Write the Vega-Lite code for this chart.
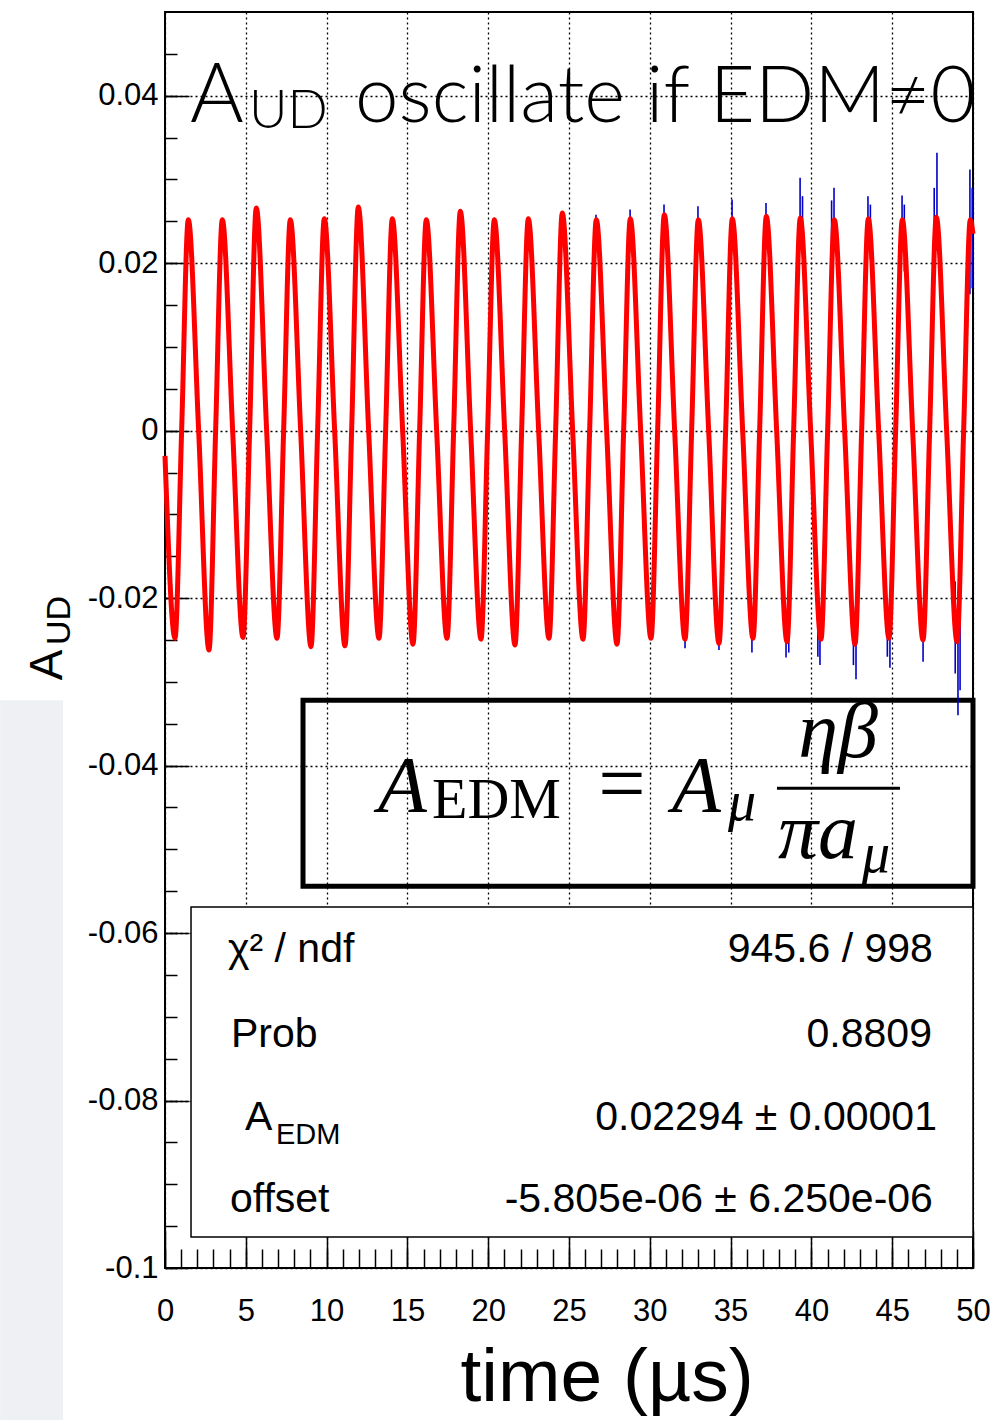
{
  "$schema": "https://vega.github.io/schema/vega-lite/v6.json",
  "width": 808,
  "height": 1256,
  "padding": {"left": 0, "top": 12, "right": 0, "bottom": 0},
  "background": "white",
  "datasets": {
    "fit": [
      {"t":0,"v":-0.003},
      {"t":0.619,"v":-0.0248},{"t":1.029,"v":0},{"t":1.442,"v":0.0252},{"t":2.082,"v":0},
      {"t":2.723,"v":-0.0262},{"t":3.133,"v":0},{"t":3.546,"v":0.0252},{"t":4.186,"v":0},
      {"t":4.827,"v":-0.0247},{"t":5.237,"v":0},{"t":5.65,"v":0.0266},{"t":6.29,"v":0},
      {"t":6.931,"v":-0.0248},{"t":7.341,"v":0},{"t":7.754,"v":0.0252},{"t":8.394,"v":0},
      {"t":9.035,"v":-0.0258},{"t":9.445,"v":0},{"t":9.858,"v":0.0253},{"t":10.498,"v":0},
      {"t":11.139,"v":-0.0257},{"t":11.549,"v":0},{"t":11.962,"v":0.0267},{"t":12.602,"v":0},
      {"t":13.243,"v":-0.0248},{"t":13.653,"v":0},{"t":14.066,"v":0.0253},{"t":14.706,"v":0},
      {"t":15.347,"v":-0.0255},{"t":15.757,"v":0},{"t":16.17,"v":0.0252},{"t":16.81,"v":0},
      {"t":17.451,"v":-0.0248},{"t":17.861,"v":0},{"t":18.274,"v":0.0262},{"t":18.914,"v":0},
      {"t":19.555,"v":-0.0249},{"t":19.965,"v":0},{"t":20.378,"v":0.0252},{"t":21.018,"v":0},
      {"t":21.659,"v":-0.0256},{"t":22.069,"v":0},{"t":22.482,"v":0.0253},{"t":23.122,"v":0},
      {"t":23.763,"v":-0.0248},{"t":24.173,"v":0},{"t":24.586,"v":0.026},{"t":25.226,"v":0},
      {"t":25.867,"v":-0.0249},{"t":26.277,"v":0},{"t":26.69,"v":0.0252},{"t":27.33,"v":0},
      {"t":27.971,"v":-0.0255},{"t":28.381,"v":0},{"t":28.794,"v":0.0253},{"t":29.434,"v":0},
      {"t":30.075,"v":-0.0248},{"t":30.485,"v":0},{"t":30.898,"v":0.0258},{"t":31.538,"v":0},
      {"t":32.179,"v":-0.0249},{"t":32.589,"v":0},{"t":33.002,"v":0.0252},{"t":33.642,"v":0},
      {"t":34.283,"v":-0.0254},{"t":34.693,"v":0},{"t":35.106,"v":0.0253},{"t":35.746,"v":0},
      {"t":36.387,"v":-0.0248},{"t":36.797,"v":0},{"t":37.21,"v":0.0256},{"t":37.85,"v":0},
      {"t":38.491,"v":-0.0252},{"t":38.901,"v":0},{"t":39.314,"v":0.0254},{"t":39.954,"v":0},
      {"t":40.595,"v":-0.0249},{"t":41.005,"v":0},{"t":41.418,"v":0.0252},{"t":42.058,"v":0},
      {"t":42.699,"v":-0.0255},{"t":43.109,"v":0},{"t":43.522,"v":0.0253},{"t":44.162,"v":0},
      {"t":44.803,"v":-0.0248},{"t":45.213,"v":0},{"t":45.626,"v":0.0252},{"t":46.266,"v":0},
      {"t":46.907,"v":-0.025},{"t":47.317,"v":0},{"t":47.73,"v":0.0255},{"t":48.37,"v":0},
      {"t":49.011,"v":-0.0252},{"t":49.421,"v":0},{"t":49.834,"v":0.0252},{"t":50,"v":0.0235}
    ],
    "bars": [
      {"t":24.57,"lo":0.0235,"hi":0.0262},
      {"t":26.67,"lo":0.0235,"hi":0.0258},
      {"t":28.78,"lo":0.0232,"hi":0.0264},
      {"t":30.88,"lo":0.023,"hi":0.027},
      {"t":32.98,"lo":0.0232,"hi":0.0268},
      {"t":35.09,"lo":0.0228,"hi":0.0276},
      {"t":37.19,"lo":0.023,"hi":0.0272},
      {"t":39.3,"lo":0.022,"hi":0.0302},
      {"t":39.45,"lo":0.021,"hi":0.028},
      {"t":41.25,"lo":0.022,"hi":0.0275},
      {"t":41.4,"lo":0.0225,"hi":0.029},
      {"t":43.5,"lo":0.0222,"hi":0.028},
      {"t":43.65,"lo":0.0205,"hi":0.027},
      {"t":45.61,"lo":0.022,"hi":0.0281},
      {"t":45.75,"lo":0.019,"hi":0.027},
      {"t":47.6,"lo":0.02,"hi":0.029},
      {"t":47.77,"lo":0.0215,"hi":0.0332},
      {"t":49.81,"lo":0.0163,"hi":0.0312},
      {"t":49.95,"lo":0.017,"hi":0.029},
      {"t":32.18,"lo":-0.0235,"hi":-0.026},
      {"t":34.28,"lo":-0.0235,"hi":-0.0262},
      {"t":36.32,"lo":-0.0232,"hi":-0.0265},
      {"t":38.43,"lo":-0.023,"hi":-0.0271},
      {"t":38.6,"lo":-0.022,"hi":-0.0265},
      {"t":40.4,"lo":-0.021,"hi":-0.027},
      {"t":40.53,"lo":-0.0228,"hi":-0.028},
      {"t":42.6,"lo":-0.021,"hi":-0.028},
      {"t":42.76,"lo":-0.0225,"hi":-0.0297},
      {"t":44.7,"lo":-0.02,"hi":-0.027},
      {"t":44.86,"lo":-0.0228,"hi":-0.0283},
      {"t":46.91,"lo":-0.0225,"hi":-0.0276},
      {"t":48.9,"lo":-0.018,"hi":-0.029},
      {"t":49.07,"lo":-0.02,"hi":-0.034},
      {"t":49.2,"lo":-0.022,"hi":-0.031}
    ]
  },
  "config": {
    "view": {"stroke": "#000", "strokeWidth": 2},
    "font": "Liberation Sans",
    "axis": {"labelFont": "Liberation Sans", "labelColor": "#000", "titleFont": "Liberation Sans", "titleColor": "#000", "tickColor": "#000", "zindex": 0}
  },
  "resolve": {"axis": {"x": "independent", "y": "independent"}},
  "layer": [
    {
      "data": {"values": [{}]},
      "mark": {"type": "rect", "color": "#eef0f3"},
      "encoding": {
        "x": {"datum": -10.2, "axis": null},
        "x2": {"datum": -6.31},
        "y": {"datum": -0.0322, "axis": null},
        "y2": {"datum": -0.1182}
      }
    },
    {
      "data": {"values": [{}]},
      "mark": {"type": "rect", "filled": false, "stroke": "#000", "strokeWidth": 5},
      "encoding": {
        "x": {"datum": 8.54, "axis": null},
        "x2": {"datum": 50},
        "y": {"datum": -0.0322, "axis": null},
        "y2": {"datum": -0.0544}
      }
    },
    {
      "data": {"name": "bars"},
      "mark": {"type": "rule", "color": "#0000c8", "strokeWidth": 1.6},
      "encoding": {
        "x": {"field": "t", "type": "quantitative", "scale": {"domain": [0, 50], "nice": false, "zero": false},
          "axis": {"orient": "bottom", "values": [0,1,2,3,4,5,6,7,8,9,10,11,12,13,14,15,16,17,18,19,20,21,22,23,24,25,26,27,28,29,30,31,32,33,34,35,36,37,38,39,40,41,42,43,44,45,46,47,48,49,50],
            "labels": false, "grid": false, "domain": false, "title": null, "tickSize": -19, "tickWidth": 1.5, "zindex": 0}},
        "y": {"field": "lo", "type": "quantitative", "scale": {"domain": [-0.1, 0.05], "nice": false, "zero": false},
          "axis": {"orient": "left", "values": [-0.1,-0.095,-0.09,-0.085,-0.08,-0.075,-0.07,-0.065,-0.06,-0.055,-0.05,-0.045,-0.04,-0.035,-0.03,-0.025,-0.02,-0.015,-0.01,-0.005,0,0.005,0.01,0.015,0.02,0.025,0.03,0.035,0.04,0.045],
            "labels": false, "grid": false, "domain": false, "title": null, "tickSize": -12, "tickWidth": 1.5, "zindex": 0}},
        "y2": {"field": "hi"}
      }
    },
    {
      "data": {"name": "fit"},
      "mark": {"type": "line", "color": "#ff0000", "strokeWidth": 5, "interpolate": "monotone"},
      "encoding": {
        "x": {"field": "t", "type": "quantitative", "scale": {"domain": [0, 50], "nice": false, "zero": false},
          "axis": {"orient": "bottom", "values": [0,5,10,15,20,25,30,35,40,45,50], "format": "d",
            "labelFontSize": 31, "labelPadding": 66, "labelFlush": false, "labelOverlap": false,
            "tickSize": -38, "tickWidth": 1.5, "grid": true, "gridColor": "#000", "gridDash": [2, 3], "gridWidth": 1.3,
            "domain": false, "title": "time (µs)", "titleFontSize": 75, "titleFontWeight": "normal",
            "titleAlign": "left", "titleAnchor": "start", "titleX": 295, "titleY": 132, "titleBaseline": "alphabetic", "zindex": 0}},
        "y": {"field": "v", "type": "quantitative", "scale": {"domain": [-0.1, 0.05], "nice": false, "zero": false},
          "axis": {"orient": "left", "values": [-0.1,-0.08,-0.06,-0.04,-0.02,0,0.02,0.04], "labelExpr": "'' + datum.value",
            "labelFontSize": 31, "labelPadding": 31, "labelFlush": false, "labelOverlap": false,
            "tickSize": -24, "tickWidth": 1.5, "grid": true, "gridColor": "#000", "gridDash": [2, 3], "gridWidth": 1.3,
            "domain": false, "title": null, "zindex": 0}}
      }
    },
    {
      "data": {"values": [{}]},
      "mark": {"type": "rect", "fill": "#fff", "stroke": "#000", "strokeWidth": 1.5},
      "encoding": {
        "x": {"datum": 1.61, "axis": null},
        "x2": {"datum": 50},
        "y": {"datum": -0.0569, "axis": null},
        "y2": {"datum": -0.0963}
      }
    },
    {
      "data": {"values": [{}]},
      "mark": {"type": "rule", "color": "#000", "strokeWidth": 3},
      "encoding": {
        "x": {"datum": 37.87, "axis": null},
        "x2": {"datum": 45.48},
        "y": {"datum": -0.0427, "axis": null}
      }
    },
    {
      "data": {"values": [{"s": "A"}]},
      "mark": {"type": "text", "font": "Lato", "fontWeight": 300, "fontSize": 82, "align": "left", "baseline": "alphabetic", "color": "#000"},
      "encoding": {"x": {"datum": 1.55, "axis": null}, "y": {"datum": 0.0369, "axis": null}, "text": {"field": "s"}}
    },
    {
      "data": {"values": [{"s": "UD"}]},
      "mark": {"type": "text", "font": "Lato", "fontWeight": 300, "fontSize": 53, "align": "left", "baseline": "alphabetic", "color": "#000"},
      "encoding": {"x": {"datum": 5.2, "axis": null}, "y": {"datum": 0.0361, "axis": null}, "text": {"field": "s"}}
    },
    {
      "data": {"values": [{"s": "oscillate if EDM≠0"}]},
      "mark": {"type": "text", "font": "Lato", "fontWeight": 300, "fontSize": 78, "align": "left", "baseline": "alphabetic", "color": "#000"},
      "encoding": {"x": {"datum": 11.76, "axis": null}, "y": {"datum": 0.0369, "axis": null}, "text": {"field": "s"}}
    },
    {
      "data": {"values": [{"s": "A"}]},
      "mark": {"type": "text", "font": "Liberation Serif", "fontStyle": "italic", "fontSize": 80, "align": "left", "baseline": "alphabetic", "color": "#000"},
      "encoding": {"x": {"datum": 13.18, "axis": null}, "y": {"datum": -0.0455, "axis": null}, "text": {"field": "s"}}
    },
    {
      "data": {"values": [{"s": "A"}]},
      "mark": {"type": "text", "font": "Liberation Serif", "fontStyle": "italic", "fontSize": 80, "align": "left", "baseline": "alphabetic", "color": "#000"},
      "encoding": {"x": {"datum": 31.37, "axis": null}, "y": {"datum": -0.0455, "axis": null}, "text": {"field": "s"}}
    },
    {
      "data": {"values": [{"s": "EDM"}]},
      "mark": {"type": "text", "font": "Liberation Serif", "fontSize": 58, "align": "left", "baseline": "alphabetic", "color": "#000"},
      "encoding": {"x": {"datum": 16.52, "axis": null}, "y": {"datum": -0.0463, "axis": null}, "text": {"field": "s"}}
    },
    {
      "data": {"values": [{"s": "="}]},
      "mark": {"type": "text", "font": "Liberation Serif", "fontSize": 84, "align": "center", "baseline": "alphabetic", "color": "#000"},
      "encoding": {"x": {"datum": 28.28, "axis": null}, "y": {"datum": -0.0455, "axis": null}, "text": {"field": "s"}}
    },
    {
      "data": {"values": [{"s": "μ"}]},
      "mark": {"type": "text", "font": "Liberation Serif", "fontStyle": "italic", "fontSize": 56, "align": "left", "baseline": "alphabetic", "color": "#000"},
      "encoding": {"x": {"datum": 34.84, "axis": null}, "y": {"datum": -0.0465, "axis": null}, "text": {"field": "s"}}
    },
    {
      "data": {"values": [{"s": "ηβ"}]},
      "mark": {"type": "text", "font": "Liberation Serif", "fontStyle": "italic", "fontSize": 80, "align": "center", "baseline": "alphabetic", "color": "#000"},
      "encoding": {"x": {"datum": 41.65, "axis": null}, "y": {"datum": -0.039, "axis": null}, "text": {"field": "s"}}
    },
    {
      "data": {"values": [{"s": "πa"}]},
      "mark": {"type": "text", "font": "Liberation Serif", "fontStyle": "italic", "fontSize": 80, "align": "left", "baseline": "alphabetic", "color": "#000"},
      "encoding": {"x": {"datum": 37.93, "axis": null}, "y": {"datum": -0.051, "axis": null}, "text": {"field": "s"}}
    },
    {
      "data": {"values": [{"s": "μ"}]},
      "mark": {"type": "text", "font": "Liberation Serif", "fontStyle": "italic", "fontSize": 56, "align": "left", "baseline": "alphabetic", "color": "#000"},
      "encoding": {"x": {"datum": 43.13, "axis": null}, "y": {"datum": -0.0527, "axis": null}, "text": {"field": "s"}}
    },
    {
      "data": {"values": [{"s": "χ² / ndf"}]},
      "mark": {"type": "text", "font": "Liberation Sans", "fontSize": 41, "align": "left", "baseline": "alphabetic", "color": "#000"},
      "encoding": {"x": {"datum": 3.9, "axis": null}, "y": {"datum": -0.0635, "axis": null}, "text": {"field": "s"}}
    },
    {
      "data": {"values": [{"s": "945.6 / 998"}]},
      "mark": {"type": "text", "font": "Liberation Sans", "fontSize": 41, "align": "right", "baseline": "alphabetic", "color": "#000"},
      "encoding": {"x": {"datum": 47.52, "axis": null}, "y": {"datum": -0.0635, "axis": null}, "text": {"field": "s"}}
    },
    {
      "data": {"values": [{"s": "Prob"}]},
      "mark": {"type": "text", "font": "Liberation Sans", "fontSize": 41, "align": "left", "baseline": "alphabetic", "color": "#000"},
      "encoding": {"x": {"datum": 4.08, "axis": null}, "y": {"datum": -0.0736, "axis": null}, "text": {"field": "s"}}
    },
    {
      "data": {"values": [{"s": "0.8809"}]},
      "mark": {"type": "text", "font": "Liberation Sans", "fontSize": 41, "align": "right", "baseline": "alphabetic", "color": "#000"},
      "encoding": {"x": {"datum": 47.46, "axis": null}, "y": {"datum": -0.0736, "axis": null}, "text": {"field": "s"}}
    },
    {
      "data": {"values": [{"s": "A"}]},
      "mark": {"type": "text", "font": "Liberation Sans", "fontSize": 41, "align": "left", "baseline": "alphabetic", "color": "#000"},
      "encoding": {"x": {"datum": 4.95, "axis": null}, "y": {"datum": -0.0835, "axis": null}, "text": {"field": "s"}}
    },
    {
      "data": {"values": [{"s": "EDM"}]},
      "mark": {"type": "text", "font": "Liberation Sans", "fontSize": 29, "align": "left", "baseline": "alphabetic", "color": "#000"},
      "encoding": {"x": {"datum": 6.87, "axis": null}, "y": {"datum": -0.0852, "axis": null}, "text": {"field": "s"}}
    },
    {
      "data": {"values": [{"s": "0.02294 ± 0.00001"}]},
      "mark": {"type": "text", "font": "Liberation Sans", "fontSize": 41, "align": "right", "baseline": "alphabetic", "color": "#000"},
      "encoding": {"x": {"datum": 47.77, "axis": null}, "y": {"datum": -0.0835, "axis": null}, "text": {"field": "s"}}
    },
    {
      "data": {"values": [{"s": "offset"}]},
      "mark": {"type": "text", "font": "Liberation Sans", "fontSize": 41, "align": "left", "baseline": "alphabetic", "color": "#000"},
      "encoding": {"x": {"datum": 4.02, "axis": null}, "y": {"datum": -0.0933, "axis": null}, "text": {"field": "s"}}
    },
    {
      "data": {"values": [{"s": "-5.805e-06 ± 6.250e-06"}]},
      "mark": {"type": "text", "font": "Liberation Sans", "fontSize": 41, "align": "right", "baseline": "alphabetic", "color": "#000"},
      "encoding": {"x": {"datum": 47.52, "axis": null}, "y": {"datum": -0.0933, "axis": null}, "text": {"field": "s"}}
    },
    {
      "data": {"values": [{"s": "A"}]},
      "mark": {"type": "text", "font": "Liberation Sans", "fontSize": 46, "angle": 270, "align": "left", "baseline": "alphabetic", "color": "#000"},
      "encoding": {"x": {"datum": -6.37, "axis": null}, "y": {"datum": -0.0298, "axis": null}, "text": {"field": "s"}}
    },
    {
      "data": {"values": [{"s": "UD"}]},
      "mark": {"type": "text", "font": "Liberation Sans", "fontSize": 34, "angle": 270, "align": "left", "baseline": "alphabetic", "color": "#000"},
      "encoding": {"x": {"datum": -5.88, "axis": null}, "y": {"datum": -0.0256, "axis": null}, "text": {"field": "s"}}
    }
  ]
}
